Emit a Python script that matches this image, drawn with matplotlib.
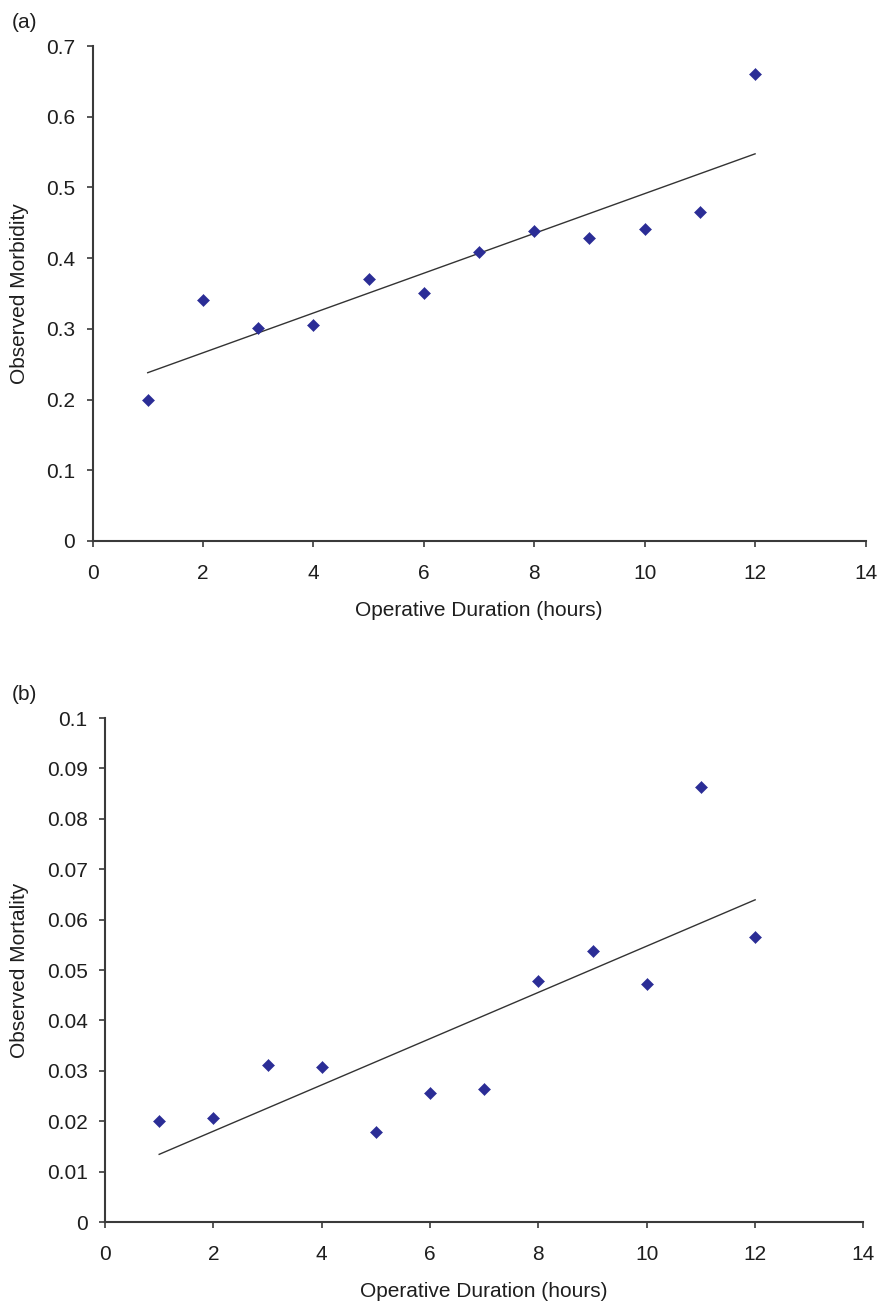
import matplotlib
matplotlib.use("Agg")
import matplotlib.pyplot as plt
from matplotlib.ticker import FuncFormatter
import numpy as np

plt.rcParams['font.family'] = ['Liberation Sans', 'DejaVu Sans']

# operative duration (hours)
hours = [1, 2, 3, 4, 5, 6, 7, 8, 9, 10, 11, 12]
# panel (a): observed morbidity
morbidity = [0.200, 0.341, 0.301, 0.306, 0.370, 0.351, 0.409, 0.439, 0.429, 0.441, 0.465, 0.661]
# panel (b): observed mortality
mortality = [0.0200, 0.0206, 0.0311, 0.0308, 0.0178, 0.0256, 0.0263, 0.0479, 0.0538, 0.0473, 0.0864, 0.0565]

xlabel = "Operative Duration (hours)"
marker_col = "#2b2d96"
axis_col = "#3a3a3a"
text_col = "#1e1e1e"

fig = plt.figure(figsize=(8.77, 13.03), dpi=100)
W, H = 877, 1303

def px_axes(left, right, top, bottom):
    return fig.add_axes([left / W, 1 - bottom / H, (right - left) / W, (bottom - top) / H])

ax1 = px_axes(92.5, 865.5, 46, 541)
ax2 = px_axes(105, 863.5, 718, 1222)

panels = [
    (ax1, morbidity, "Observed Morbidity", 0.7, 0.1, "(a)", 23),
    (ax2, mortality, "Observed Mortality", 0.1, 0.01, "(b)", 695),
]

for ax, vals, ylab, ymax, ystep, tag, tag_y in panels:
    # least squares trend line
    k, b = np.polyfit(hours, vals, 1)
    xs = np.array([hours[0], hours[-1]])
    ax.plot(xs, k * xs + b, color="#333333", lw=1.0, zorder=2)
    ax.plot(hours, vals, linestyle="none", marker="D", ms=6.3,
            color=marker_col, mec=marker_col, mew=0.4, zorder=3)

    ax.set_xlim(0, 14)
    ax.set_ylim(0, ymax)
    ax.set_xticks(range(0, 15, 2))
    ax.set_yticks(np.round(np.arange(0, ymax + ystep / 2, ystep), 4))
    ax.yaxis.set_major_formatter(FuncFormatter(lambda v, p: "{:g}".format(round(v, 4))))

    for s in ["top", "right"]:
        ax.spines[s].set_visible(False)
    for s in ["left", "bottom"]:
        ax.spines[s].set_color(axis_col)
        ax.spines[s].set_linewidth(1.5)
    ax.spines["left"].set_zorder(5)
    ax.spines["bottom"].set_zorder(5)

    ax.tick_params(axis="both", direction="out", length=4.5, width=1.2,
                   color=axis_col, labelsize=15, labelcolor=text_col)
    ax.tick_params(axis="y", pad=8)
    ax.tick_params(axis="x", pad=12)

    ax.set_xlabel(xlabel, fontsize=15, color=text_col, labelpad=13)
    ax.set_ylabel(ylab, fontsize=15, color=text_col)
    ax.yaxis.set_label_coords((29 - ax.get_position().x0 * W) / (ax.get_position().width * W), 0.5)

    fig.text(12 / W, 1 - tag_y / H, tag, fontsize=15, color=text_col, ha="left", va="center")

fig.savefig("out.png", dpi=100)
